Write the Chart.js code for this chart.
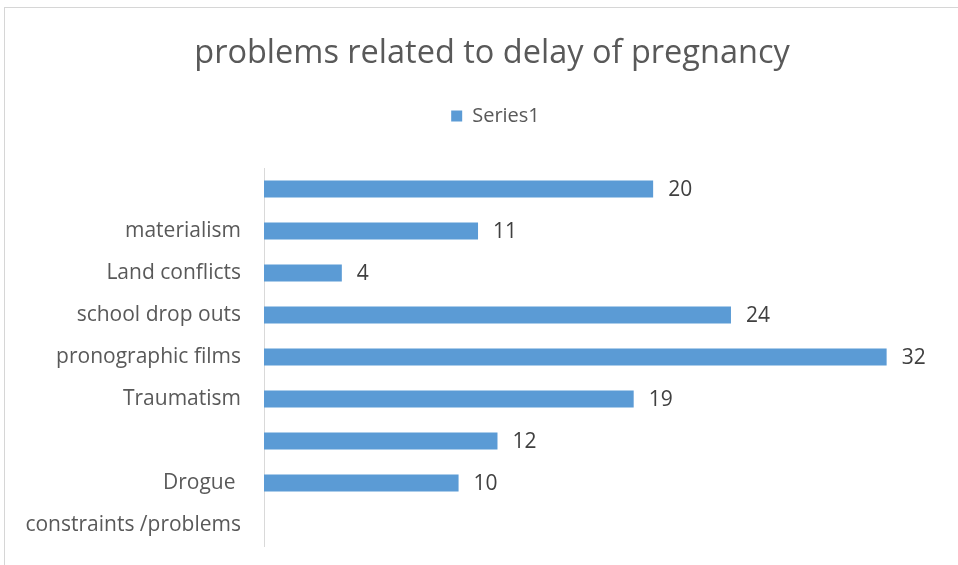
<!DOCTYPE html>
<html>
<head>
<meta charset="utf-8">
<script src="https://cdn.jsdelivr.net/npm/chart.js@4"></script>
<style>
  html, body { margin: 0; padding: 0; background: #fff; overflow: hidden; }
  #frame {
    position: absolute; left: 4px; top: 7px; width: 1000px; height: 600px;
    border-left: 1px solid #d6d6d6; border-top: 1px solid #d6d6d6;
  }
  #wrap { position: absolute; left: 1px; top: 1px; width: 973px; height: 557px; }
</style>
</head>
<body>
<div id="frame"><div id="wrap"><canvas id="c" width="973" height="557"></canvas></div></div>
<script>
// Categories listed bottom-to-top as they appear on the axis
const categories = [
  "constraints /problems",
  "Drogue ",
  "",
  "Traumatism",
  "pronographic films",
  "school drop outs",
  "Land conflicts",
  "materialism",
  ""
];
const series1 = [null, 10, 12, 19, 32, 24, 4, 11, 20];
const seriesName = "Series1";
const chartTitle = "problems related to delay of pregnancy";

const FONT = "'Open Sans', Lato, sans-serif";

// Writes each bar's value just past its end
const valueLabels = {
  id: 'valueLabels',
  afterDatasetsDraw(chart) {
    const ctx = chart.ctx;
    const meta = chart.getDatasetMeta(0);
    ctx.save();
    ctx.font = "21px " + FONT;
    ctx.fillStyle = "#404040";
    ctx.textAlign = "left";
    ctx.textBaseline = "middle";
    meta.data.forEach((bar, i) => {
      const v = series1[i];
      if (v === null || v === undefined) return;
      ctx.fillText(String(v), bar.x + 15, bar.y + 1);
    });
    ctx.restore();
  }
};

// Leaves a gap under the legend; centres title and legend on the full chart width
const headerLayout = {
  id: 'headerLayout',
  beforeInit(chart) {
    const fit = chart.legend.fit;
    chart.legend.fit = function () {
      fit.call(this);
      this.height += 32;
    };
  },
  afterLayout(chart) {
    chart.titleBlock.left = 0;
    chart.titleBlock.right = 972;
    chart.legend.left = 0;
    chart.legend.right = 979;
  }
};

new Chart(document.getElementById('c'), {
  type: 'bar',
  data: {
    labels: categories,
    datasets: [{
      label: seriesName,
      data: series1,
      backgroundColor: '#5b9bd5',
      borderWidth: 0,
      barPercentage: 0.4,
      categoryPercentage: 1.0
    }]
  },
  options: {
    indexAxis: 'y',
    responsive: false,
    animation: false,
    layout: { padding: { left: 0, right: 34, top: 0, bottom: 20 } },
    plugins: {
      title: {
        display: true,
        text: chartTitle,
        color: '#595959',
        font: { family: FONT, size: 32.5, weight: 'normal' },
        padding: { top: 25, bottom: 23 }
      },
      legend: {
        display: true,
        position: 'top',
        labels: {
          boxWidth: 11,
          boxHeight: 11,
          color: '#595959',
          font: { family: FONT, size: 20 }
        }
      },
      tooltip: { enabled: false }
    },
    scales: {
      x: {
        display: false,
        min: 0,
        max: 35
      },
      y: {
        reverse: true,
        grid: { display: false, drawTicks: false },
        border: { display: true, color: '#d9d9d9', width: 1 },
        ticks: {
          color: '#595959',
          padding: 23,
          font: { family: FONT, size: 21 }
        },
        afterFit(scale) {
          scale.width = 258;
          scale.paddingTop = 0;
          scale.paddingBottom = 0;
        }
      }
    }
  },
  plugins: [valueLabels, headerLayout]
});
</script>
</body>
</html>
